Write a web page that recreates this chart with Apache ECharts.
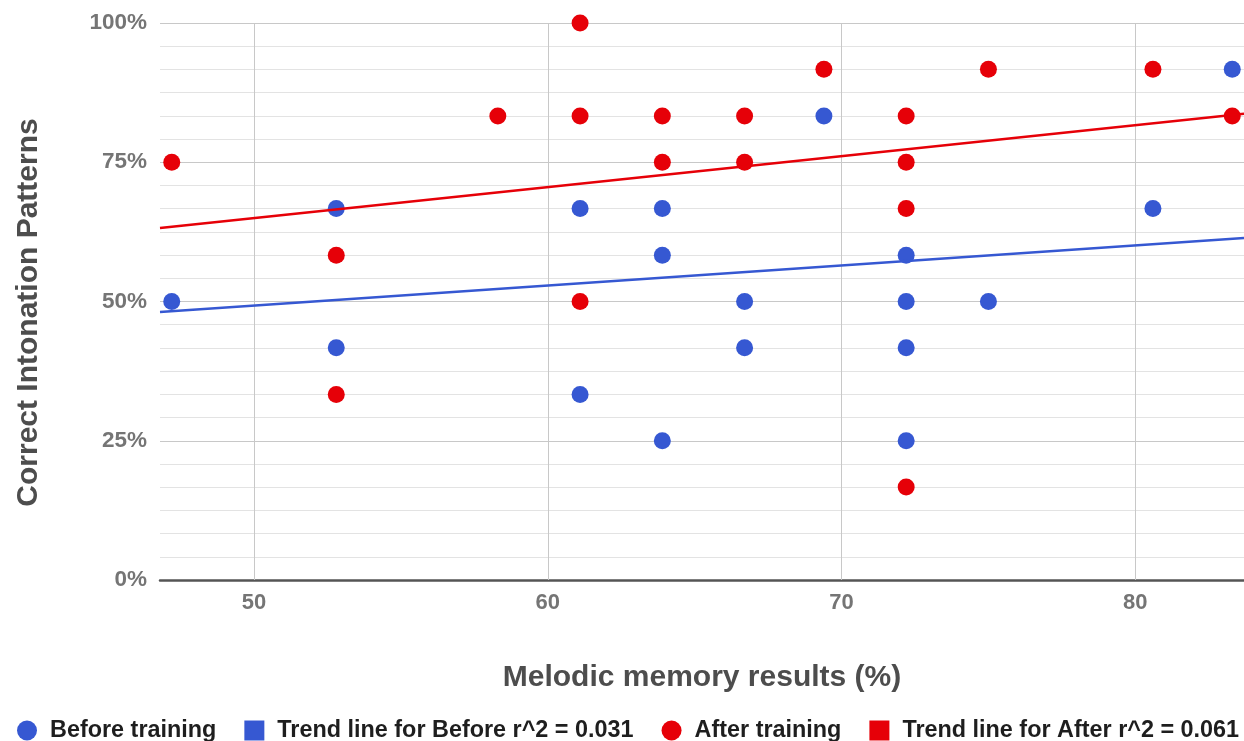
<!DOCTYPE html>
<html><head><meta charset="utf-8">
<script src="https://cdn.jsdelivr.net/npm/echarts@6/dist/echarts.min.js"></script>
<style>html,body{margin:0;padding:0;background:#fff}#c{width:1244px;height:741px}</style>
</head><body><div id="c"></div>
<script>
// Melodic memory results (%) vs Correct Intonation Patterns (%)
const xTicks = [50, 60, 70, 80];
const yTicks = [0, 25, 50, 75, 100];
const beforePoints = [
  [47.2, 50], [52.8, 66.7], [52.8, 41.7], [61.1, 66.7], [61.1, 33.3],
  [63.9, 66.7], [63.9, 58.3], [63.9, 25], [66.7, 50], [66.7, 41.7],
  [69.4, 83.3], [72.2, 58.3], [72.2, 50], [72.2, 41.7], [72.2, 25],
  [75, 50], [80.6, 66.7], [83.3, 91.7]
];
const afterPoints = [
  [47.2, 75], [52.8, 58.3], [52.8, 33.3], [58.3, 83.3], [61.1, 100],
  [61.1, 83.3], [61.1, 50], [63.9, 83.3], [63.9, 75], [66.7, 83.3],
  [66.7, 75], [69.4, 91.7], [72.2, 83.3], [72.2, 75], [72.2, 66.7],
  [72.2, 16.7], [75, 91.7], [80.6, 91.7], [83.3, 83.3]
];
// trend line end points (x at plot edges)
const trendBefore = [[46.8, 48.1], [83.7, 61.4]];
const trendAfter = [[46.8, 63.2], [83.7, 83.7]];
const names = ['Before training', 'Trend line for Before r^2 = 0.031', 'After training', 'Trend line for After r^2 = 0.061'];

const BLUE = '#3658d2', RED = '#e60008';
const FONT = '"Liberation Sans", Arial, sans-serif';
const sq = 'path://M0,0H10V10H0Z';

const chart = echarts.init(document.getElementById('c'), null, {renderer: 'canvas'});
chart.setOption({
  animation: false,
  textStyle: {fontFamily: FONT},
  grid: {left: 160, right: 0, top: 23, bottom: 161, containLabel: false},
  legend: {
    left: 17, top: 719, itemGap: 28, itemWidth: 36, itemHeight: 20, padding: 0,
    textStyle: {fontSize: 23.4, fontWeight: 'bold', color: '#1e1e1e', fontFamily: FONT},
    data: [
      {name: names[0], icon: 'circle'},
      {name: names[1], icon: sq},
      {name: names[2], icon: 'circle'},
      {name: names[3], icon: sq}
    ]
  },
  xAxis: {
    type: 'value', min: 46.8, max: 83.7,
    name: 'Melodic memory results (%)', nameLocation: 'middle', nameGap: 83,
    nameTextStyle: {fontSize: 30, fontWeight: 'bold', color: '#4d4d4d', fontFamily: FONT},
    axisLine: {show: true, lineStyle: {color: '#555', width: 2.5}},
    axisTick: {show: false, customValues: xTicks},
    axisLabel: {customValues: xTicks, fontSize: 22, fontWeight: 'bold', color: '#757575', margin: 12, fontFamily: FONT},
    splitLine: {show: false}
  },
  yAxis: {
    type: 'value', min: 0, max: 100, interval: 25,
    name: 'Correct Intonation Patterns', nameLocation: 'middle', nameGap: 116,
    nameTextStyle: {fontSize: 30, fontWeight: 'bold', color: '#4d4d4d', fontFamily: FONT, padding: [0, 22, 0, 0]},
    axisLine: {show: false}, axisTick: {show: false},
    axisLabel: {formatter: '{value}%', fontSize: 22.5, fontWeight: 'bold', color: '#757575', margin: 13, fontFamily: FONT},
    splitLine: {show: true, lineStyle: {color: '#c8c8c8', width: 1}},
    minorTick: {show: false, splitNumber: 6},
    minorSplitLine: {show: true, lineStyle: {color: '#e3e3e3', width: 1}}
  },
  series: [
    {name: names[0], type: 'scatter', data: beforePoints, symbolSize: 17, itemStyle: {color: BLUE, opacity: 1}, z: 3,
     markLine: {silent: true, symbol: 'none', label: {show: false}, z: 1,
       lineStyle: {color: '#c8c8c8', type: 'solid', width: 1},
       data: xTicks.map(v => ({xAxis: v}))}},
    {name: names[1], type: 'line', data: trendBefore, showSymbol: false, symbol: 'none', lineStyle: {color: BLUE, width: 2.5}, itemStyle: {color: BLUE}, z: 4},
    {name: names[2], type: 'scatter', data: afterPoints, symbolSize: 17, itemStyle: {color: RED, opacity: 1}, z: 3},
    {name: names[3], type: 'line', data: trendAfter, showSymbol: false, symbol: 'none', lineStyle: {color: RED, width: 2.5}, itemStyle: {color: RED}, z: 4}
  ]
});
</script>
</body></html>
